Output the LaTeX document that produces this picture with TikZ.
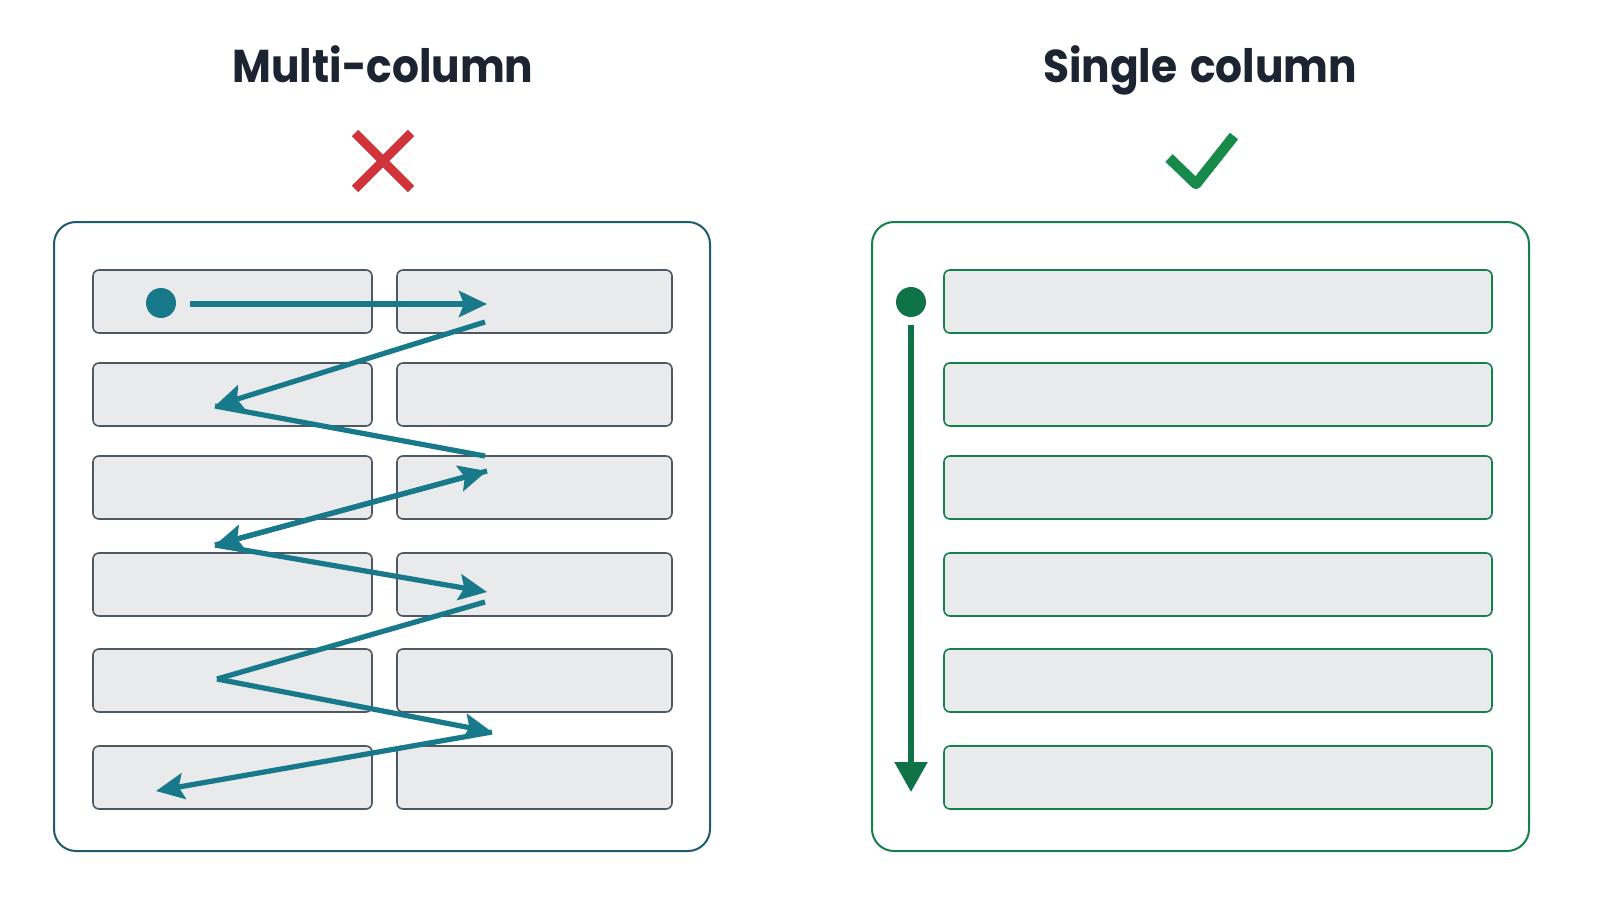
\documentclass[tikz,border=0pt]{standalone}
\usepackage{fontspec}
\setmainfont{Poppins}
\usetikzlibrary{arrows.meta}
\definecolor{titlec}{HTML}{1B2430}
\definecolor{tealc}{HTML}{17798A}
\definecolor{panelL}{HTML}{1F5A6E}
\definecolor{panelR}{HTML}{15804A}
\definecolor{cellfill}{HTML}{E9EAEC}
\definecolor{cellL}{HTML}{4D5863}
\definecolor{greenc}{HTML}{0F7347}
\definecolor{checkc}{HTML}{178A4A}
\definecolor{redc}{HTML}{D0343A}
\begin{document}
\begin{tikzpicture}[x=1pt,y=-1pt,
  title/.style={font=\fontsize{46}{52}\selectfont\bfseries, text=titlec, inner sep=0pt, anchor=base, xscale=0.92},
  panel/.style={draw=#1, line width=2pt, fill=white, rounded corners=22pt, inner sep=0pt},
  cellbox/.style={draw=#1, line width=1.6pt, fill=cellfill, rounded corners=6pt, inner sep=0pt, minimum height=63pt},
  zig/.style={draw=tealc, line width=5.2pt},
  zighead/.style={-{Stealth[length=28pt,width=26pt,inset=5pt]}},
  dotstyle/.style={circle, fill=#1, inner sep=0pt, minimum size=30pt}
]
\useasboundingbox (0,0) rectangle (1600,900);
\fill[white] (0,0) rectangle (1600,900);

% titles
\node[title] (T1) at (383,82) {Multi-column};
\node[title] (T2) at (1200,82) {Single\hspace{4pt} column};

% cross and check
\draw[redc, line width=9pt] (355,133) -- (411,189) (411,133) -- (355,189);
\draw[checkc, line width=10.5pt, line join=round] (1169,158) -- (1196,184) -- (1234,136);

% panels
\node[panel=panelL, minimum width=656pt, minimum height=629pt] (LP) at (382,536.5) {};
\node[panel=panelR, minimum width=657pt, minimum height=629pt] (RP) at (1200.5,536.5) {};

% cells
\foreach \i/\y in {1/301.5,2/394.5,3/487.5,4/584.5,5/680.5,6/777.5}{
  \node[cellbox=cellL, minimum width=279pt] (La\i) at (232.5,\y) {};
  \node[cellbox=cellL, minimum width=275pt] (Lb\i) at (534.5,\y) {};
  \node[cellbox=panelR, minimum width=548pt] (R\i) at (1218,\y) {};
}

% left reading path
\node[dotstyle=tealc] (LD) at (161,303) {};
\coordinate (s1) at (190,304);
\coordinate (p1) at (487,304);
\coordinate (p2) at (485,322);
\coordinate (p3) at (215,406);
\coordinate (p4) at (485,456);
\coordinate (p5) at (487,471);
\coordinate (p6) at (215,545);
\coordinate (p7) at (487,592);
\coordinate (p8) at (485,602);
\coordinate (p9) at (217,679);
\coordinate (p10) at (492,732);
\coordinate (p11) at (156,791);

\draw[zig, zighead] (s1) -- (p1);
\draw[zig, zighead] (p2) -- (p3);
\draw[zig] (p3) -- (p4);
\draw[zig, zighead] (p6) -- (p5);
\draw[zig, zighead] (p5) -- (p6);
\draw[zig, zighead] (p6) -- (p7);
\draw[zig] (p8) -- (p9);
\draw[zig, zighead] (p9) -- (p10);
\draw[zig, zighead] (p10) -- (p11);

% right reading path
\node[dotstyle=greenc, minimum size=30pt] (RD) at (911,302) {};
\coordinate (rend) at (911,792);
\draw[greenc, line width=5.5pt, -{Triangle[length=30pt,width=32pt]}] (911,325) -- (rend);
\end{tikzpicture}
\end{document}
